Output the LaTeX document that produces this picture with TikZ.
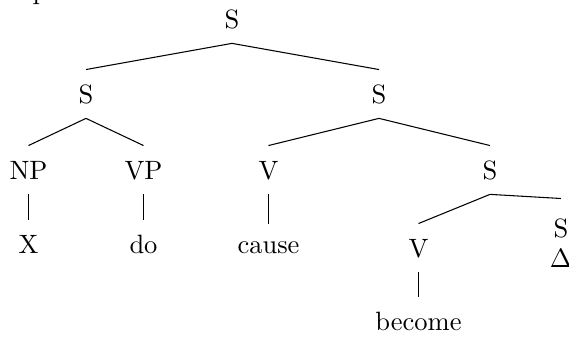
\documentclass[tikz,border=0pt]{standalone}
\begin{document}
\begin{tikzpicture}[x=0.3774pt,y=-0.3774pt,
  lbl/.style={anchor=base,text height=6.83pt,text depth=0pt,inner xsep=0pt,inner ysep=5.6pt},
  edge/.style={draw=black,line width=0.4pt}]
\useasboundingbox (0,0) rectangle (569,337);

% fragment of a line of text above the tree
\node[anchor=base west,inner sep=0pt] (frag) at (32,-1) {p};

% tree nodes, placed by their baselines
\node[lbl] (s0) at (232,28) {S};
\node[lbl] (s1) at (86,103) {S};
\node[lbl] (s2) at (379,103) {S};
\node[lbl] (np) at (28.5,179) {NP};
\node[lbl] (vp) at (143.5,179) {VP};
\node[lbl] (v1) at (268.5,179) {V};
\node[lbl] (s3) at (490,179) {S};
\node[lbl] (x) at (28.5,253) {X};
\node[lbl] (do) at (143.5,253) {do};
\node[lbl,text height=5.3pt] (cause) at (268.5,253) {cause};
\node[lbl] (v2) at (418.5,257) {V};
\node[lbl,inner ysep=7.5pt] (sd) at (561,237) {S};
\node[anchor=base,inner sep=0pt] (delta) at (561,267) {$\Delta$};
\node[lbl] (become) at (418.5,330) {become};

% branches
\draw[edge] (s0.south) -- (s1.north);
\draw[edge] (s0.south) -- (s2.north);
\draw[edge] (s1.south) -- (np.north);
\draw[edge] (s1.south) -- (vp.north);
\draw[edge] (s2.south) -- (v1.north);
\draw[edge] (s2.south) -- (s3.north);
\draw[edge] (np.south) -- (x.north);
\draw[edge] (vp.south) -- (do.north);
\draw[edge] (v1.south) -- (cause.north);
\draw[edge] (s3.south) -- (v2.north);
\draw[edge] (s3.south) -- (sd.north);
\draw[edge] (v2.south) -- (become.north);
\end{tikzpicture}
\end{document}
